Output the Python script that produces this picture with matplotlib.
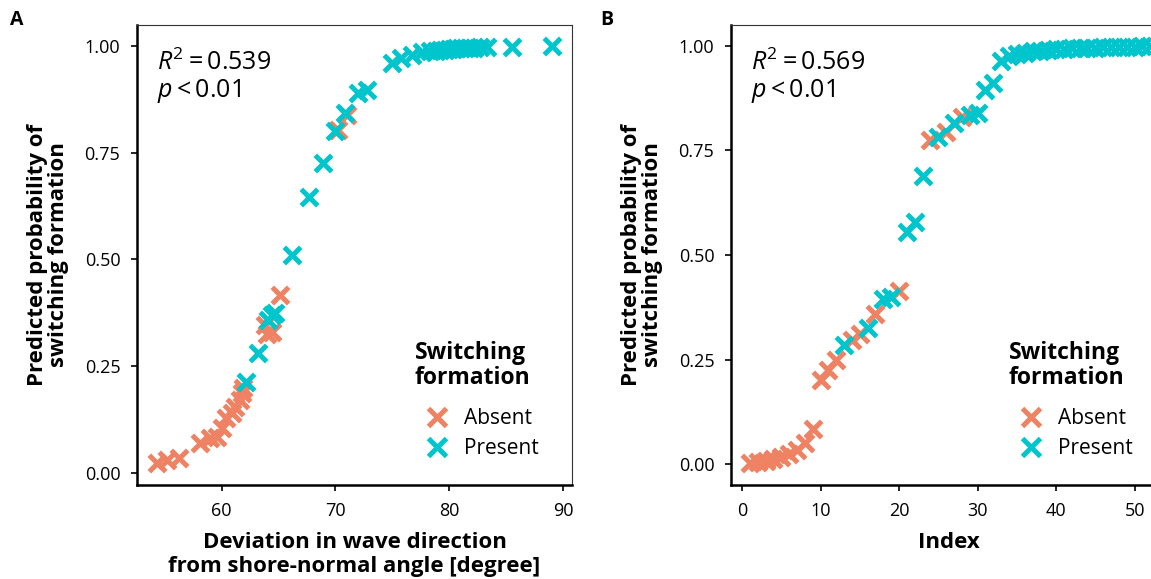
import matplotlib
matplotlib.use("Agg")
import matplotlib.pyplot as plt
from matplotlib.lines import Line2D

plt.rcParams['font.family'] = ['Open Sans', 'DejaVu Sans']
plt.rcParams['mathtext.fontset'] = 'custom'
plt.rcParams['mathtext.rm'] = 'Open Sans'
plt.rcParams['mathtext.it'] = 'Open Sans:italic'

ORANGE = '#EE8262'
CYAN = '#00C5CD'

# panel A: deviation in wave direction vs predicted probability
dev_absent = [54.3, 55.2, 56.2, 58.1, 59.0, 59.6, 60.0, 60.4, 60.9, 61.2, 61.6, 61.8,
              61.9, 63.8, 64.0, 64.4, 65.1, 70.25, 71.0]
prob_absent = [0.022, 0.03, 0.034, 0.069, 0.08, 0.084, 0.104, 0.127, 0.139, 0.154, 0.17, 0.186,
               0.198, 0.346, 0.326, 0.33, 0.416, 0.803, 0.838]
dev_present = [62.1, 63.2, 64.1, 64.4, 64.7, 66.2, 67.7, 68.9, 70.0, 70.85, 72.0, 72.75,
               75.0, 75.8, 76.7, 77.6, 78.3, 78.8, 79.2, 79.6, 80.0, 80.3, 80.6, 81.0,
               81.4, 81.8, 82.2, 82.7, 83.3, 85.5, 89.0]
prob_present = [0.213, 0.28, 0.358, 0.369, 0.373, 0.51, 0.645, 0.725, 0.80, 0.842, 0.889, 0.897,
                0.96, 0.971, 0.979, 0.985, 0.988, 0.989, 0.99, 0.991, 0.992, 0.993, 0.994, 0.995,
                0.995, 0.996, 0.996, 0.997, 0.997, 0.998, 0.999]

# panel B: index vs predicted probability
idx_absent = [1, 2, 3, 4, 5, 6, 7, 8, 9, 10, 11, 12, 14, 15, 17, 20, 24, 26, 28]
pb_absent = [0.002, 0.004, 0.007, 0.011, 0.016, 0.023, 0.033, 0.05, 0.085, 0.20, 0.225, 0.25,
             0.297, 0.312, 0.36, 0.415, 0.775, 0.795, 0.83]
idx_present = [13, 16, 18, 19, 21, 22, 23, 25, 27, 29, 30, 31, 32, 33, 34, 35, 36, 37, 38,
               39, 40, 41, 42, 43, 44, 45, 46, 47, 48, 49, 50, 51, 52, 53]
pb_present = [0.285, 0.325, 0.395, 0.40, 0.555, 0.578, 0.69, 0.782, 0.815, 0.835, 0.84, 0.895,
              0.912, 0.965, 0.975, 0.98, 0.984, 0.987, 0.989, 0.991, 0.992, 0.993, 0.994, 0.995,
              0.996, 0.996, 0.997, 0.997, 0.998, 0.998, 0.998, 0.999, 0.999, 0.999]

W, H = 1151, 579
fig = plt.figure(figsize=(W / 100, H / 100), dpi=100)


def box(l, t, r, b):
    return [l / W, 1 - b / H, (r - l) / W, (b - t) / H]


axA = fig.add_axes(box(137, 25, 572, 485))
axB = fig.add_axes(box(731, 25, 1166, 485))

ms = 140
lw = 3.6


def style(ax):
    for s in ['left', 'bottom']:
        ax.spines[s].set_linewidth(1.8)
    for s in ['top', 'right']:
        ax.spines[s].set_linewidth(0.8)
        ax.spines[s].set_color('#333333')
    ax.tick_params(direction='out', length=4, width=1.2, labelsize=13, colors='black', pad=8)
    ax.set_yticks([0, 0.25, 0.5, 0.75, 1.0])
    ax.set_yticklabels(['0.00', '0.25', '0.50', '0.75', '1.00'])
    ax.set_ylabel('Predicted probability of\nswitching formation', fontsize=16,
                  fontweight='bold', labelpad=11, linespacing=1.0)


# A
axA.scatter(dev_absent, prob_absent, marker='x', s=ms, linewidths=lw, color=ORANGE, zorder=3)
axA.scatter(dev_present, prob_present, marker='x', s=ms, linewidths=lw, color=CYAN, zorder=3)
axA.set_xlim(52.55, 90.8)
axA.set_ylim(-0.029, 1.049)
axA.set_xticks([60, 70, 80, 90])
style(axA)
axA.set_xlabel('Deviation in wave direction\nfrom shore-normal angle [degree]', fontsize=16,
               fontweight='bold', labelpad=9, linespacing=1.15)
axA.text(0.045, 0.917, r'$R^2 = 0.539$', transform=axA.transAxes, fontsize=18, va='center')
axA.text(0.045, 0.857, r'$p < 0.01$', transform=axA.transAxes, fontsize=18, va='center')

# B
axB.scatter(idx_absent, pb_absent, marker='x', s=ms, linewidths=lw, color=ORANGE, zorder=3)
axB.scatter(idx_present, pb_present, marker='x', s=ms, linewidths=lw, color=CYAN, zorder=3)
axB.set_xlim(-1.4, 54.0)
axB.set_ylim(-0.05, 1.05)
axB.set_xticks([0, 10, 20, 30, 40, 50])
style(axB)
axB.set_xlabel('Index', fontsize=16, fontweight='bold', labelpad=9)
axB.text(0.045, 0.917, r'$R^2 = 0.569$', transform=axB.transAxes, fontsize=18, va='center')
axB.text(0.045, 0.857, r'$p < 0.01$', transform=axB.transAxes, fontsize=18, va='center')

handles = [Line2D([], [], marker='x', linestyle='none', color=ORANGE, markersize=13, mew=lw),
           Line2D([], [], marker='x', linestyle='none', color=CYAN, markersize=13, mew=lw)]
for ax in (axA, axB):
    ax.legend(handles, ['Absent', 'Present'], loc='lower left',
              bbox_to_anchor=(0.637, 0.038), frameon=False, fontsize=15,
              handletextpad=0.6, labelspacing=0.45, borderaxespad=0, handlelength=1.4)
    ax.text(0.639, 0.313, 'Switching\nformation', transform=ax.transAxes, fontsize=16.5,
            fontweight='bold', va='top', ha='left', linespacing=1.05)

fig.text(10 / W, 1 - 20 / H, 'A', fontsize=14, fontweight='bold', va='center')
fig.text(600 / W, 1 - 20 / H, 'B', fontsize=14, fontweight='bold', va='center')

fig.savefig('out.png', dpi=100)
